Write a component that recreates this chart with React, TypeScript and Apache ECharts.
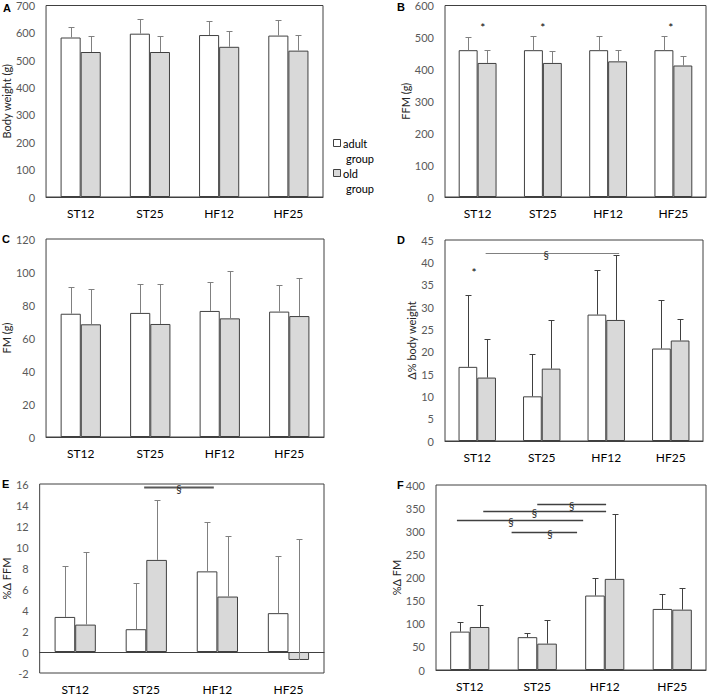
import React, { useEffect, useRef } from "react";
import * as echarts from "echarts";

const categories = ["ST12", "ST25", "HF12", "HF25"];

// A: Body weight (g)
const bwAdult = [583, 597, 592, 590];
const bwAdultSD = [39, 54, 51, 58];
const bwOld = [530, 530, 549, 535];
const bwOldSD = [60, 60, 58, 57];

// B: FFM (g)
const ffmAdult = [460, 460, 460, 460];
const ffmAdultSD = [40, 44, 44, 46];
const ffmOld = [420, 420, 425, 412];
const ffmOldSD = [41, 38, 36, 31];

// C: FM (g)
const fmAdult = [74.7, 75.2, 76.4, 76.0];
const fmAdultSD = [16.0, 17.5, 17.3, 16.3];
const fmOld = [68.3, 68.5, 71.9, 73.3];
const fmOldSD = [21.4, 24.2, 28.5, 22.9];

// D: Δ% body weight
const dbwAdult = [16.6, 10.0, 28.3, 20.7];
const dbwAdultSD = [16.0, 9.4, 9.9, 10.9];
const dbwOld = [14.2, 16.2, 27.1, 22.5];
const dbwOldSD = [8.6, 11.0, 14.6, 4.9];

// E: %Δ FFM
const dffmAdult = [3.34, 2.17, 7.68, 3.7];
const dffmAdultSD = [4.84, 4.4, 4.67, 5.42];
const dffmOld = [2.61, 8.77, 5.28, -0.76];
const dffmOldSD = [6.95, 5.72, 5.78, 11.49];

// F: %Δ FM
const dfmAdult = [83, 71, 161, 132];
const dfmAdultSD = [21.5, 10, 38.5, 32.5];
const dfmOld = [93, 57, 197, 130.5];
const dfmOldSD = [48, 52, 140, 46];

// significance marks: [x from, x to (in category units), y]
const bStars = [[0.08, 540], [1.0, 540], [2.96, 540]];
const dStars = [[-0.05, 38.4]];
const dLines = [[0.13, 2.2, 42.2, 1.07]];
const eLines = [[0.97, 1.95, 15.7, 1.46]];
const fLines = [
  [1.0, 2.02, 360, 1.51],
  [0.2, 2.02, 344, 0.96],
  [-0.19, 1.68, 324, 0.61],
  [0.62, 1.59, 298, 1.19],
];

const FONT = "Lato, 'Open Sans', sans-serif";

type Panel = {
  letter: string;
  name: string;
  grid: { left: number; top: number; width: number; height: number };
  min: number;
  max: number;
  interval: number;
  nameGap: number;
  adult: number[];
  adultSD: number[];
  old: number[];
  oldSD: number[];
  lineColor: string;
};

const panels: Panel[] = [
  { letter: "A", name: "Body weight (g)", grid: { left: 45, top: 4, width: 278, height: 193 }, min: 0, max: 700, interval: 100, nameGap: 28, adult: bwAdult, adultSD: bwAdultSD, old: bwOld, oldSD: bwOldSD, lineColor: "#808080" },
  { letter: "B", name: "FFM (g)", grid: { left: 445, top: 4, width: 261, height: 193 }, min: 0, max: 600, interval: 100, nameGap: 24, adult: ffmAdult, adultSD: ffmAdultSD, old: ffmOld, oldSD: ffmOldSD, lineColor: "#808080" },
  { letter: "C", name: "FM (g)", grid: { left: 44, top: 239, width: 280, height: 198 }, min: 0, max: 120, interval: 20, nameGap: 28, adult: fmAdult, adultSD: fmAdultSD, old: fmOld, oldSD: fmOldSD, lineColor: "#808080" },
  { letter: "D", name: "Δ% body weight", grid: { left: 445, top: 240, width: 258, height: 201 }, min: 0, max: 45, interval: 5, nameGap: 20, adult: dbwAdult, adultSD: dbwAdultSD, old: dbwOld, oldSD: dbwOldSD, lineColor: "#404040" },
  { letter: "E", name: "%Δ FFM", grid: { left: 38, top: 484, width: 286, height: 204 }, min: -2, max: 16, interval: 2, nameGap: 20, adult: dffmAdult, adultSD: dffmAdultSD, old: dffmOld, oldSD: dffmOldSD, lineColor: "#808080" },
  { letter: "F", name: "%Δ FM", grid: { left: 436, top: 485, width: 270, height: 185 }, min: 0, max: 400, interval: 50, nameGap: 26, adult: dfmAdult, adultSD: dfmAdultSD, old: dfmOld, oldSD: dfmOldSD, lineColor: "#404040" },
];

const letterPos: Record<string, [number, number]> = {
  A: [3, 8], B: [397, 7], C: [2, 239], D: [397, 240], E: [2, 484], F: [397, 485],
};

function errSeries(idx: number, means: number[], sds: number[], side: number, color: string) {
  return {
    type: "custom",
    xAxisIndex: idx,
    yAxisIndex: idx,
    z: 5,
    silent: true,
    clip: false,
    encode: { x: 0, y: 1 },
    data: means.map((m, i) => [i, m + sds[i]]),
    renderItem: (params: any, api: any) => {
      const i = params.dataIndex;
      const base = api.coord([i, means[i]]);
      const top = api.coord([i, means[i] + sds[i]]);
      const band = api.size([1, 0])[0];
      const x = Math.round(base[0] + side * band * 0.145) + 0.5;
      const ty = Math.round(top[1]) + 0.5;
      return {
        type: "group",
        children: [
          { type: "line", shape: { x1: x, y1: base[1], x2: x, y2: ty }, style: { stroke: color, lineWidth: 1 } },
          { type: "line", shape: { x1: x - 3, y1: ty, x2: x + 3, y2: ty }, style: { stroke: color, lineWidth: 1 } },
        ],
      };
    },
  };
}

function starSeries(idx: number, stars: number[][]) {
  return {
    type: "custom",
    xAxisIndex: idx,
    yAxisIndex: idx,
    z: 6,
    silent: true,
    clip: false,
    encode: { x: 0, y: 1 },
    data: stars.map((s) => [0, s[1]]),
    renderItem: (params: any, api: any) => {
      const s = stars[params.dataIndex];
      const p0 = api.coord([0, s[1]]);
      const band = api.size([1, 0])[0];
      return {
        type: "text",
        style: {
          x: p0[0] + s[0] * band,
          y: p0[1] + 3,
          text: "*",
          fill: "#000",
          font: `12px ${FONT}`,
          align: "center",
          verticalAlign: "middle",
        },
      };
    },
  };
}

function sigSeries(idx: number, lines: number[][], color: string, width: number) {
  return {
    type: "custom",
    xAxisIndex: idx,
    yAxisIndex: idx,
    z: 6,
    silent: true,
    clip: false,
    encode: { x: 0, y: 1 },
    data: lines.map((l) => [0, l[2]]),
    renderItem: (params: any, api: any) => {
      const l = lines[params.dataIndex];
      const p0 = api.coord([0, l[2]]);
      const band = api.size([1, 0])[0];
      const y = Math.round(p0[1]) + 0.5;
      return {
        type: "group",
        children: [
          { type: "line", shape: { x1: p0[0] + l[0] * band, y1: y, x2: p0[0] + l[1] * band, y2: y }, style: { stroke: color, lineWidth: width } },
          {
            type: "text",
            style: {
              x: p0[0] + l[3] * band,
              y: y + 1,
              text: "§",
              fill: "#262626",
              font: `11px ${FONT}`,
              align: "center",
              verticalAlign: "middle",
            },
          },
        ],
      };
    },
  };
}

export default function App() {
  const ref = useRef<HTMLDivElement>(null);
  useEffect(() => {
    if (!ref.current) return;
    const chart = echarts.init(ref.current, null, { renderer: "svg" });
    const grids = panels.map((p) => ({
      ...p.grid,
      show: true,
      borderColor: "#404040",
      borderWidth: 1,
      backgroundColor: "transparent",
      containLabel: false,
    }));
    const xAxes = panels.map((p, i) => ({
      type: "category",
      gridIndex: i,
      data: categories,
      axisTick: { show: false },
      axisLine: { show: true, onZero: true, lineStyle: { color: "#404040", width: 1 } },
      axisLabel: { color: "#000", fontSize: 12, fontFamily: FONT, margin: 10 },
      splitLine: { show: false },
    }));
    const yAxes = panels.map((p, i) => ({
      type: "value",
      gridIndex: i,
      min: p.min,
      max: p.max,
      interval: p.interval,
      name: p.name,
      nameLocation: "middle",
      nameGap: p.nameGap,
      nameTextStyle: { color: "#262626", fontSize: 11, fontFamily: FONT },
      axisLine: { show: false },
      axisTick: { show: false },
      splitLine: { show: false },
      axisLabel: { color: "#595959", fontSize: 11, fontFamily: FONT, margin: 11 },
    }));
    const series: any[] = [];
    panels.forEach((p, i) => {
      series.push({
        type: "bar",
        name: "adult group",
        xAxisIndex: i,
        yAxisIndex: i,
        data: p.adult,
        barGap: "0%",
        barCategoryGap: "42%",
        itemStyle: { color: "#ffffff", borderColor: "#404040", borderWidth: 1 },
        silent: true,
      });
      series.push({
        type: "bar",
        name: "old group",
        xAxisIndex: i,
        yAxisIndex: i,
        data: p.old,
        barGap: "0%",
        barCategoryGap: "42%",
        itemStyle: { color: "#d9d9d9", borderColor: "#404040", borderWidth: 1 },
        silent: true,
      });
      series.push(errSeries(i, p.adult, p.adultSD, -1, p.lineColor));
      series.push(errSeries(i, p.old, p.oldSD, 1, p.lineColor));
    });
    series.push(starSeries(1, bStars));
    series.push(starSeries(3, dStars));
    series.push(sigSeries(3, dLines, "#808080", 1));
    series.push(sigSeries(4, eLines, "#595959", 2));
    series.push(sigSeries(5, fLines, "#404040", 1.5));

    const graphic: any[] = panels.map((p) => ({
      type: "text",
      left: letterPos[p.letter][0],
      top: letterPos[p.letter][1] - 6,
      style: { text: p.letter, fill: "#000", font: "bold 11px 'Liberation Sans', Arial, sans-serif" },
    }));
    // legend
    graphic.push(
      { type: "rect", shape: { x: 333.5, y: 139.5, width: 7, height: 7 }, style: { fill: "#fff", stroke: "#404040", lineWidth: 1 } },
      { type: "text", x: 343, y: 143, style: { text: "adult", fill: "#000", font: `11px ${FONT}`, verticalAlign: "middle" } },
      { type: "text", x: 346, y: 158, style: { text: "group", fill: "#000", font: `11px ${FONT}`, verticalAlign: "middle" } },
      { type: "rect", shape: { x: 333.5, y: 169.5, width: 7, height: 7 }, style: { fill: "#d9d9d9", stroke: "#404040", lineWidth: 1 } },
      { type: "text", x: 343, y: 173, style: { text: "old", fill: "#000", font: `11px ${FONT}`, verticalAlign: "middle" } },
      { type: "text", x: 346, y: 188, style: { text: "group", fill: "#000", font: `11px ${FONT}`, verticalAlign: "middle" } }
    );

    chart.setOption({
      animation: false,
      backgroundColor: "#ffffff",
      grid: grids,
      xAxis: xAxes,
      yAxis: yAxes,
      series,
      graphic,
    });
    return () => chart.dispose();
  }, []);
  return (
    <div
      ref={ref}
      style={{ position: "fixed", left: 0, top: 0, width: 708, height: 695, background: "#fff" }}
    />
  );
}
